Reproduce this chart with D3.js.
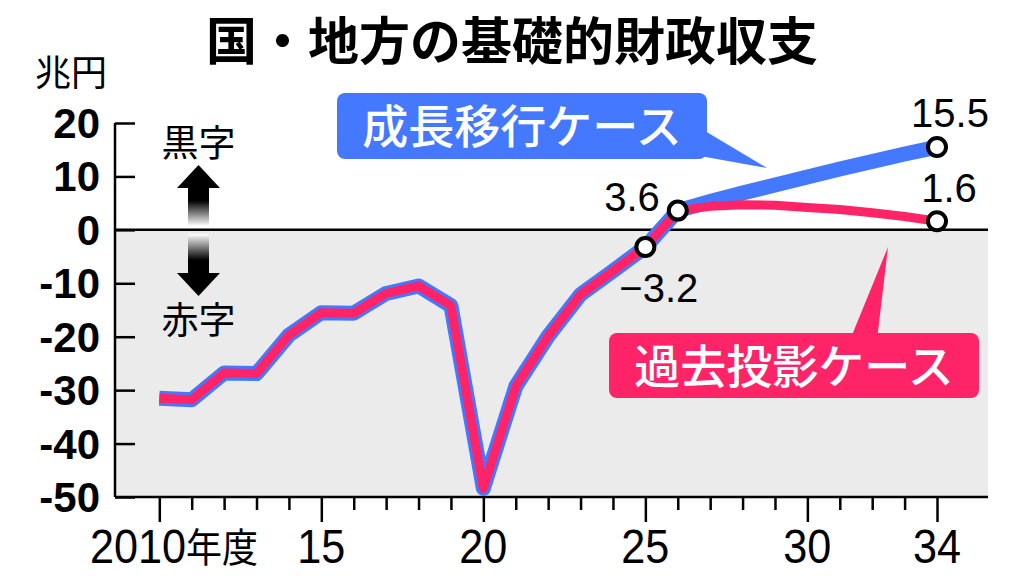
<!DOCTYPE html>
<html>
<head>
<meta charset="utf-8">
<script src="https://cdn.jsdelivr.net/npm/d3@7"></script>
<style>
  body { margin: 0; background: #fff; }
  svg { display: block; }
</style>
</head>
<body>
<svg id="chart" width="1024" height="579"></svg>
<script>
// Data (兆円)
const years = d3.range(2010, 2035);
const actual = [-31.5, -31.8, -26.8, -26.9, -19.7, -15.5, -15.6, -11.9, -10.5, -14.2,
  -48.4, -29.3, -19.9, -12.1, -7.7, -3.2, 3.6];
const growthCase = [5.3, 6.9, 8.4, 9.9, 11.4, 12.8, 14.2, 15.5];   // 2027-2034
const pastCase = [4.4, 4.7, 4.6, 4.2, 3.8, 3.2, 2.5, 1.6];         // 2027-2034
const yTicks = [20, 10, 0, -10, -20, -30, -40, -50];
const majorYears = [2010, 2015, 2020, 2025, 2030, 2034];
const xLabels = ["2010", "15", "20", "25", "30", "34"];

const growthSeries = years.map((yr, i) => ({ yr, v: i < actual.length ? actual[i] : growthCase[i - actual.length] }));
const pastSeries = years.map((yr, i) => ({ yr, v: i < actual.length ? actual[i] : pastCase[i - actual.length] }));

const blue = "#4479ff";
const red = "#ff2468";
const jp = "'Noto Sans CJK JP', sans-serif";
const num = "'Liberation Sans', Arial, sans-serif";

const svg = d3.select("#chart");
const plotLeft = 115, plotRight = 988;

const x = d3.scaleLinear().domain([2010, 2034]).range([159.3, 937]);
const y = d3.scaleLinear().domain([-50, 20]).range([497, 123]);

// gradient for arrow shafts
const defs = svg.append("defs");
const gUp = defs.append("linearGradient").attr("id", "fadeUp").attr("x1", 0).attr("y1", 0).attr("x2", 0).attr("y2", 1);
gUp.append("stop").attr("offset", "0%").attr("stop-color", "#000");
gUp.append("stop").attr("offset", "35%").attr("stop-color", "#000");
gUp.append("stop").attr("offset", "100%").attr("stop-color", "#fff");
const gDown = defs.append("linearGradient").attr("id", "fadeDown").attr("x1", 0).attr("y1", 0).attr("x2", 0).attr("y2", 1);
gDown.append("stop").attr("offset", "0%").attr("stop-color", "#fff");
gDown.append("stop").attr("offset", "65%").attr("stop-color", "#000");
gDown.append("stop").attr("offset", "100%").attr("stop-color", "#000");

// title
svg.append("text")
  .attr("x", 512).attr("y", 60)
  .attr("text-anchor", "middle")
  .style("font-family", jp).style("font-weight", "bold").style("font-size", "51px")
  .text("国・地方の基礎的財政収支");

// unit
svg.append("text")
  .attr("x", 35).attr("y", 86)
  .style("font-family", jp).style("font-size", "36px")
  .text("兆円");

// deficit area
svg.append("rect")
  .attr("x", plotLeft).attr("y", y(0))
  .attr("width", plotRight - plotLeft).attr("height", y(-50) - y(0))
  .attr("fill", "#ebebeb");

// y axis
const yAxis = d3.axisRight(y).tickValues(yTicks).tickSize(20).tickFormat("");
const yG = svg.append("g").attr("transform", "translate(" + plotLeft + ",0)").call(yAxis);
yG.select(".domain").attr("d", "M0," + y(20) + "V" + y(-50)).attr("stroke", "#000").attr("stroke-width", 2.5);
yG.selectAll(".tick line").attr("stroke", "#000").attr("stroke-width", 2.5);

svg.selectAll(".ylab")
  .data(yTicks)
  .enter().append("text")
  .attr("class", "ylab")
  .attr("x", 100).attr("y", d => y(d) + 15)
  .attr("text-anchor", "end")
  .style("font-family", num).style("font-weight", "bold").style("font-size", "42px")
  .text(d => d);

// zero line and bottom axis
svg.append("line")
  .attr("x1", plotLeft).attr("x2", plotRight)
  .attr("y1", y(0)).attr("y2", y(0))
  .attr("stroke", "#000").attr("stroke-width", 2.5);

const xAxis = d3.axisBottom(x).tickValues(years).tickSize(13).tickFormat("");
const xG = svg.append("g").attr("transform", "translate(0," + y(-50) + ")").call(xAxis);
xG.select(".domain").attr("d", "M" + plotLeft + ",0H" + plotRight).attr("stroke", "#000").attr("stroke-width", 2.5);
xG.selectAll(".tick line")
  .attr("stroke", "#000").attr("stroke-width", 2.5)
  .attr("y2", d => majorYears.includes(d) ? 25 : 13);

// x labels (slightly condensed digits)
majorYears.forEach((yr, i) => {
  const t = svg.append("text")
    .attr("y", 563)
    .style("font-family", num).style("font-size", "48px");
  if (i === 0) {
    t.attr("x", 90).attr("text-anchor", "start")
      .attr("transform", "translate(90,0) scale(0.9,1) translate(-90,0)");
    t.append("tspan").text(xLabels[i]);
    t.append("tspan").style("font-family", jp).style("font-size", "40px").attr("dy", -1).text("年度");
  } else {
    t.attr("x", x(yr)).attr("text-anchor", "middle")
      .attr("transform", "translate(" + x(yr) + ",0) scale(0.9,1) translate(" + (-x(yr)) + ",0)")
      .text(xLabels[i]);
  }
});

// surplus / deficit arrows
const ax = 198.5;
svg.append("text").attr("x", ax).attr("y", 157).attr("text-anchor", "middle")
  .style("font-family", jp).style("font-size", "37px").text("黒字");
svg.append("path").attr("d", "M" + (ax - 21.5) + ",188L" + ax + ",165L" + (ax + 21.5) + ",188Z").attr("fill", "#000");
svg.append("rect").attr("x", ax - 10.5).attr("y", 187).attr("width", 21).attr("height", 39).attr("fill", "url(#fadeUp)");
svg.append("rect").attr("x", ax - 10.5).attr("y", 234).attr("width", 21).attr("height", 40).attr("fill", "url(#fadeDown)");
svg.append("path").attr("d", "M" + (ax - 21.5) + ",273L" + ax + ",296L" + (ax + 21.5) + ",273Z").attr("fill", "#000");
svg.append("text").attr("x", ax).attr("y", 334).attr("text-anchor", "middle")
  .style("font-family", jp).style("font-size", "37px").text("赤字");

// lines
const line = d3.line().x(d => x(d.yr)).y(d => y(d.v));

svg.append("path")
  .datum(growthSeries)
  .attr("d", line)
  .attr("fill", "none").attr("stroke", blue)
  .attr("stroke-width", 15).attr("stroke-linejoin", "round");

svg.append("path")
  .datum(pastSeries)
  .attr("d", line)
  .attr("fill", "none").attr("stroke", red)
  .attr("stroke-width", 9).attr("stroke-linejoin", "round");

// markers
const marks = [
  { yr: 2025, v: actual[15] },
  { yr: 2026, v: actual[16] },
  { yr: 2034, v: growthCase[7] },
  { yr: 2034, v: pastCase[7] }
];
svg.selectAll(".mark")
  .data(marks)
  .enter().append("circle")
  .attr("class", "mark")
  .attr("cx", d => x(d.yr)).attr("cy", d => y(d.v))
  .attr("r", 9)
  .attr("fill", "#fff").attr("stroke", "#000").attr("stroke-width", 4);

// value labels
const valStyle = t => t.style("font-family", num).style("font-size", "40px");
valStyle(svg.append("text").attr("x", x(2026) - 18).attr("y", y(3.6) + 0).attr("text-anchor", "end").text("3.6"));
valStyle(svg.append("text").attr("x", x(2025) - 26).attr("y", y(-3.2) + 55).text("−3.2"));
valStyle(svg.append("text").attr("x", x(2034) + 13).attr("y", y(15.5) - 20).attr("text-anchor", "middle").text("15.5"));
valStyle(svg.append("text").attr("x", x(2034) + 12).attr("y", y(1.6) - 19).attr("text-anchor", "middle").text("1.6"));

// callout labels
function callout(bx, by, bw, bh, tail, color, label) {
  svg.append("path").attr("d", tail).attr("fill", color);
  svg.append("rect")
    .attr("x", bx).attr("y", by).attr("width", bw).attr("height", bh)
    .attr("rx", 8).attr("fill", color);
  svg.append("text")
    .attr("x", bx + bw / 2).attr("y", by + bh / 2 + 17)
    .attr("text-anchor", "middle").attr("fill", "#fff")
    .style("font-family", jp).style("font-weight", "500").style("font-size", "46px")
    .text(label);
}
callout(337, 93, 370, 66, "M700,128L767,168L700,156Z", blue, "成長移行ケース");
callout(609, 333, 370, 65, "M850,340L888,247L877,340Z", red, "過去投影ケース");
</script>
</body>
</html>
